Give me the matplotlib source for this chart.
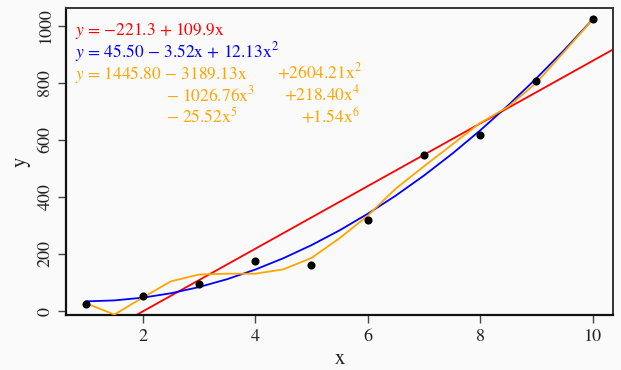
import numpy as np
import matplotlib
matplotlib.use("Agg")
import matplotlib.pyplot as plt

# data points
x = [1, 2, 3, 4, 5, 6, 7, 8, 9, 10]
y = [26.2, 53.4, 96.5, 175.9, 160.7, 320.6, 547.6, 616.9, 807.2, 1021.7]

# degree-6 curve as drawn (polyline)
orange_x = [1, 1.5, 2, 2.5, 3, 3.5, 4, 4.5, 5, 5.5, 6, 6.5, 7, 7.5, 8, 8.5, 9, 9.5, 10]
orange_y = [27, -12, 47, 104, 128, 131, 131, 146, 186, 255, 334, 429, 507, 583, 659, 716, 800, 910, 1021.7]

xticks = [2, 4, 6, 8, 10]
yticks = [0, 200, 400, 600, 800, 1000]

eq_lin = "$y$ = \u2212221.3 + 109.9x"
eq_quad = "$y$ = 45.50 \u2212 3.52x + 12.13x$^2$"
eq_poly = [
    ("$y$ = 1445.80 \u2212 3189.13x", "+2604.21x$^2$"),
    ("\u2212 1026.76x$^3$", "+218.40x$^4$"),
    ("\u2212 25.52x$^5$", "+1.54x$^6$"),
]

plt.rcParams['mathtext.fontset'] = 'stix'
plt.rcParams['font.family'] = ['STIXGeneral', 'DejaVu Serif']

bg = '#fafafa'
fig = plt.figure(figsize=(6.21, 3.70), dpi=100, facecolor=bg)
ax = fig.add_axes([66/621, 1-315/370, (613-66)/621, (315-8)/370])
ax.set_facecolor(bg)

xa = np.array(x, float)
ya = np.array(y, float)
xl = (xa.min() - 0.04*(xa.max()-xa.min()), xa.max() + 0.04*(xa.max()-xa.min()))
ax.set_xlim(xl)
ax.set_ylim(ya.min() - 0.04*(ya.max()-ya.min()), ya.max() + 0.04*(ya.max()-ya.min()))

c1 = np.polyfit(xa, ya, 1)
c2 = np.polyfit(xa, ya, 2)
xe = np.array(xl)
ax.plot(xe, np.polyval(c1, xe), color='red', lw=1.3, zorder=2)
xg = np.array(orange_x)
ax.plot(xg, np.polyval(c2, xg), color='blue', lw=1.3, zorder=2)
ax.plot(orange_x, orange_y, color='orange', lw=1.3, zorder=3)
ax.set_xlim(xl)
ax.scatter(xa, ya, s=34, color='black', zorder=4, linewidths=0)

ax.set_xticks(xticks)
ax.set_yticks(yticks)
ax.tick_params(axis='both', direction='out', length=6, width=1, color='#444444',
               labelsize=13, labelcolor='#222222')
for lab in ax.get_yticklabels():
    lab.set_rotation(90)
    lab.set_va('center')
ax.tick_params(axis='y', pad=3)
ax.tick_params(axis='x', pad=4)
for s in ['left', 'bottom']:
    ax.spines[s].set_linewidth(1.6)
    ax.spines[s].set_color('#111111')
for s in ['top', 'right']:
    ax.spines[s].set_linewidth(1.4)
    ax.spines[s].set_color('#333333')

ax.set_xlabel('x', fontsize=15, labelpad=3, color='#222222')
ax.set_ylabel('y', fontsize=15, labelpad=5, color='#222222')

fs = 12.5
def px(xp, yp):
    return ((xp - 66) / (613 - 66), 1 - (yp - 8) / (315 - 8))

ax.text(*px(75, 35), eq_lin, color='red', fontsize=fs, transform=ax.transAxes, va='baseline')
ax.text(*px(75, 57), eq_quad, color='blue', fontsize=fs, transform=ax.transAxes, va='baseline')
lefts = [(75, 277), (166, 284), (166, 301)]
bases = [79, 101, 123]
for (a, b), (l1, l2), yb in zip(eq_poly, lefts, bases):
    ax.text(*px(l1, yb), a, color='orange', fontsize=fs, transform=ax.transAxes, va='baseline')
    ax.text(*px(l2, yb), b, color='orange', fontsize=fs, transform=ax.transAxes, va='baseline')

fig.savefig('out.png', dpi=100, facecolor=bg)
